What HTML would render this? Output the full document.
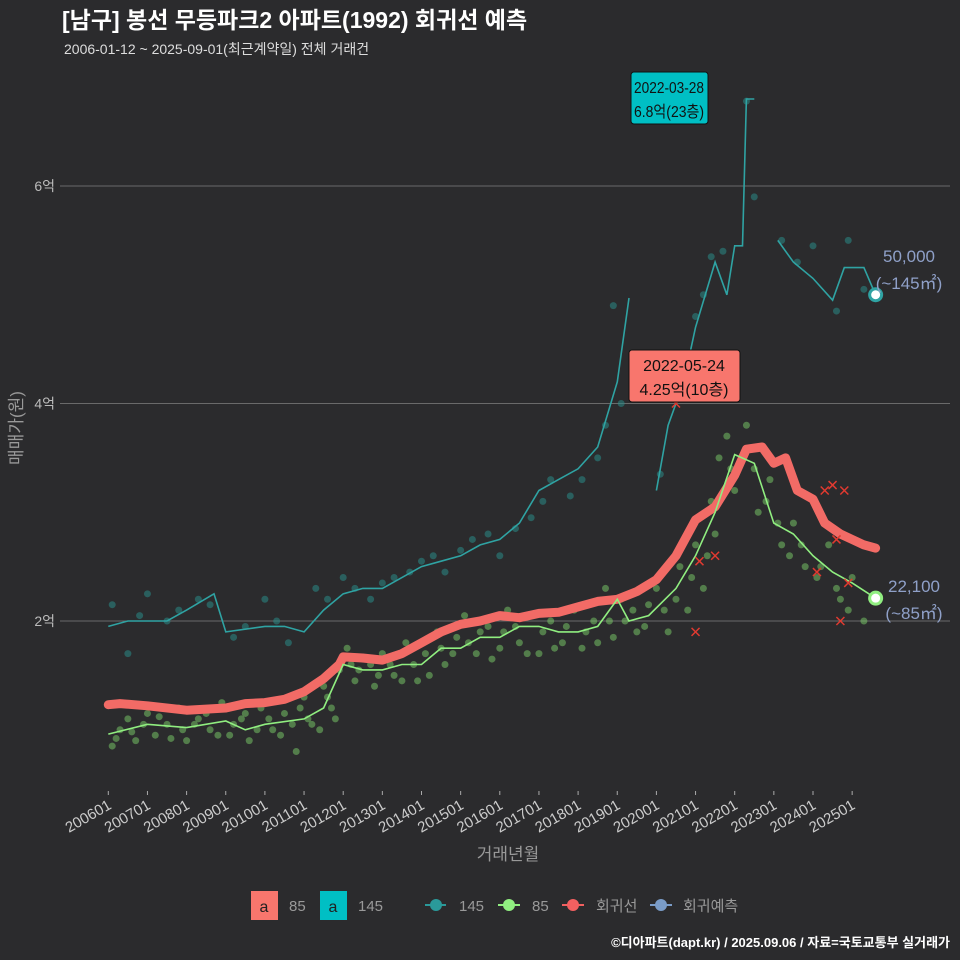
<!DOCTYPE html>
<html><head><meta charset="utf-8">
<style>
html,body{margin:0;padding:0;background:#2b2b2d;}
svg{display:block;font-family:"Liberation Sans","Noto Sans CJK KR",sans-serif;}
</style></head>
<body>
<svg id="chart" width="960" height="960" viewBox="0 0 960 960">
<rect x="0" y="0" width="960" height="960" fill="#2b2b2d"/>
<text x="62" y="28" fill="#ffffff" font-size="23" font-weight="bold">[남구] 봉선 무등파크2 아파트(1992) 회귀선 예측</text>
<text x="64" y="54" fill="#dddddd" font-size="14">2006-01-12 ~ 2025-09-01(최근계약일) 전체 거래건</text>
<g id="grid"></g>
<g id="marks"></g>
<g id="xaxis"></g>
<text x="508" y="860" fill="#999999" font-size="17" text-anchor="middle">거래년월</text>
<text transform="translate(22,428) rotate(-90)" fill="#999999" font-size="17" text-anchor="middle">매매가(원)</text>
<g>
<rect x="251" y="891" width="27" height="29" fill="#f8766d"/>
<text x="264" y="912" font-size="16" text-anchor="middle" fill="#222">a</text>
<text x="289" y="911" font-size="15" fill="#999">85</text>
<rect x="320" y="891" width="27" height="29" fill="#00bfc4"/>
<text x="333" y="912" font-size="16" text-anchor="middle" fill="#222">a</text>
<text x="358" y="911" font-size="15" fill="#999">145</text>
<line x1="425" y1="905" x2="446" y2="905" stroke="#2a9a9a" stroke-width="2"/><circle cx="436" cy="905" r="6" fill="#2a9a9a"/>
<text x="459" y="911" font-size="15" fill="#999">145</text>
<line x1="498" y1="905" x2="520" y2="905" stroke="#90ee80" stroke-width="2"/><circle cx="509" cy="905" r="6" fill="#90ee80"/>
<text x="532" y="911" font-size="15" fill="#999">85</text>
<line x1="562" y1="905" x2="584" y2="905" stroke="#f26060" stroke-width="2"/><circle cx="573" cy="905" r="6" fill="#f26060"/>
<text x="596" y="911" font-size="15" fill="#999">회귀선</text>
<line x1="650" y1="905" x2="672" y2="905" stroke="#7a9cc8" stroke-width="2"/><circle cx="661" cy="905" r="6" fill="#7a9cc8"/>
<text x="683" y="911" font-size="15" fill="#999">회귀예측</text>
</g>
<text x="950" y="947" fill="#ffffff" font-size="13" font-weight="bold" text-anchor="end">©디아파트(dapt.kr) / 2025.09.06 / 자료=국토교통부 실거래가</text>
</svg>
<script>
const yTicks=[2,4,6];
const yTickLabels=["2억","4억","6억"];
const xTickYears=[2006,2007,2008,2009,2010,2011,2012,2013,2014,2015,2016,2017,2018,2019,2020,2021,2022,2023,2024,2025];
const regT=[2006,2006.3,2007,2008,2009,2009.5,2010,2010.5,2011,2011.5,2011.9,2012,2012.5,2013,2013.5,2014,2014.5,2015,2015.5,2016,2016.5,2017,2017.5,2018,2018.5,2019,2019.5,2020,2020.5,2021,2021.5,2022,2022.3,2022.7,2023,2023.3,2023.6,2024,2024.3,2024.7,2025,2025.3,2025.6];
const regV=[1.23,1.24,1.22,1.18,1.2,1.24,1.25,1.28,1.35,1.47,1.6,1.67,1.66,1.64,1.7,1.8,1.9,1.97,2.0,2.05,2.03,2.07,2.08,2.13,2.18,2.2,2.27,2.38,2.6,2.93,3.05,3.34,3.58,3.6,3.45,3.5,3.2,3.12,2.9,2.8,2.75,2.7,2.67];
const s85T=[2006,2007,2008,2009,2009.5,2010,2011,2011.5,2012,2012.5,2013,2013.5,2014,2014.5,2015,2015.5,2016,2016.5,2017,2017.5,2018,2018.5,2019,2019.3,2019.8,2020.5,2021,2021.5,2022,2022.5,2023,2023.5,2024,2024.5,2025,2025.6];
const s85V=[0.96,1.05,1.02,1.08,1.0,1.05,1.1,1.2,1.6,1.55,1.55,1.6,1.6,1.75,1.75,1.85,1.85,1.95,1.95,1.9,1.9,1.95,2.2,2.0,2.05,2.3,2.6,3.0,3.53,3.45,2.9,2.8,2.6,2.45,2.35,2.21];
const s145T=[2006,2006.5,2007.5,2008,2008.7,2009,2010,2010.5,2011,2011.5,2012,2012.5,2013,2014,2014.5,2015,2015.5,2016,2016.5,2017,2017.5,2018,2018.5,2019,2019.3,2019.6,2020,2020.3,2020.7,2021,2021.5,2021.8,2022,2022.2,2022.3,2022.5,2022.8,2023.1,2023.5,2024,2024.5,2024.8,2025.3,2025.6];
const s145V=[1.95,2.0,2.0,2.1,2.25,1.9,1.95,1.95,1.9,2.1,2.25,2.3,2.3,2.5,2.55,2.6,2.7,2.75,2.9,3.2,3.3,3.4,3.6,4.2,4.97,null,3.2,3.8,4.2,4.7,5.3,5.0,5.45,5.45,6.8,6.8,null,5.5,5.3,5.15,4.95,5.25,5.25,5.0];
const pts85=[[2006.1,0.85],[2006.3,1.0],[2006.5,1.1],[2006.7,0.9],[2007,1.15],[2007.2,0.95],[2007.5,1.05],[2007.8,1.2],[2008,0.9],[2008.3,1.1],[2008.6,1.0],[2008.9,1.25],[2009.1,0.95],[2009.4,1.1],[2009.6,0.9],[2009.9,1.2],[2010.2,1.0],[2010.5,1.15],[2010.8,0.8],[2011,1.3],[2011.2,1.05],[2011.5,1.4],[2011.7,1.2],[2011.9,1.55],[2012.1,1.75],[2012.3,1.45],[2012.5,1.65],[2012.8,1.4],[2013,1.7],[2013.3,1.5],[2013.6,1.8],[2013.9,1.45],[2014.1,1.7],[2014.4,1.9],[2014.6,1.6],[2014.9,1.85],[2015.1,2.05],[2015.4,1.7],[2015.7,1.95],[2016,1.75],[2016.2,2.1],[2016.5,1.8],[2016.8,2.05],[2017,1.7],[2017.3,2.0],[2017.6,1.8],[2017.9,2.1],[2018.1,1.75],[2018.4,2.0],[2018.7,2.3],[2018.9,1.85],[2019.2,2.0],[2019.5,1.9],[2019.8,2.15],[2020,2.3],[2020.3,1.9],[2020.6,2.5],[2020.8,2.1],[2021,2.7],[2021.2,2.3],[2021.4,3.1],[2021.6,3.5],[2021.8,3.7],[2022,3.2],[2022.3,3.8],[2022.6,3.0],[2022.9,3.3],[2023.2,2.7],[2023.5,2.9],[2023.8,2.5],[2024.1,2.4],[2024.4,2.7],[2024.7,2.2],[2025,2.4],[2025.3,2.0],[2025.5,2.2],
[2006.2,0.92],[2006.6,0.98],[2006.9,1.05],[2007.3,1.12],[2007.6,0.92],[2007.9,1.0],[2008.2,1.05],[2008.5,1.15],[2008.8,0.95],[2009.2,1.05],[2009.5,1.15],[2009.8,1.0],[2010.1,1.1],[2010.4,0.95],[2010.7,1.05],[2010.9,1.2],[2011.1,1.1],[2011.4,1.0],[2011.6,1.3],[2011.8,1.1],[2012.2,1.6],[2012.4,1.55],[2012.7,1.6],[2012.9,1.5],[2013.2,1.6],[2013.5,1.45],[2013.8,1.6],[2014.2,1.5],[2014.5,1.75],[2014.8,1.7],[2015.2,1.8],[2015.5,1.9],[2015.8,1.65],[2016.1,1.9],[2016.4,1.95],[2016.7,1.7],[2017.1,1.9],[2017.4,1.75],[2017.7,1.95],[2018.2,1.9],[2018.5,1.8],[2018.8,2.0],[2019.1,2.2],[2019.4,2.1],[2019.7,1.95],[2020.2,2.1],[2020.5,2.2],[2020.9,2.4],[2021.3,2.6],[2021.5,2.8],[2021.9,3.4],[2022.2,3.5],[2022.5,3.4],[2022.8,3.1],[2023.1,2.9],[2023.4,2.6],[2023.7,2.7],[2024.2,2.5],[2024.6,2.3],[2024.9,2.1]];
const pts145=[[2006.1,2.15],[2006.5,1.7],[2007,2.25],[2007.5,2.0],[2008.3,2.2],[2009.2,1.85],[2010,2.2],[2010.6,1.8],[2011.3,2.3],[2012,2.4],[2012.7,2.2],[2013.3,2.4],[2014,2.55],[2014.6,2.45],[2015.3,2.75],[2016,2.6],[2016.8,2.95],[2017.3,3.3],[2017.8,3.15],[2018.5,3.5],[2018.9,4.9],[2019.1,4.0],[2020.1,3.35],[2020.5,4.1],[2021,4.8],[2021.4,5.35],[2021.7,5.4],[2022.5,5.9],[2022.3,6.78],[2023.2,5.5],[2023.6,5.3],[2024,5.45],[2024.6,4.85],[2025.3,5.05],[2024.9,5.5],
[2006.8,2.05],[2007.8,2.1],[2008.6,2.15],[2009.5,1.95],[2010.3,2.0],[2011.6,2.2],[2012.3,2.3],[2013,2.35],[2013.7,2.45],[2014.3,2.6],[2015,2.65],[2015.7,2.8],[2016.4,2.85],[2017.1,3.1],[2018.1,3.3],[2018.7,3.8],[2020.8,4.3],[2021.2,5.0]];
const regOut=[[2021.1,2.55],[2021.5,2.6],[2021.0,1.9],[2024.1,2.45],[2024.3,3.2],[2024.5,3.25],[2024.8,3.2],[2024.6,2.75],[2024.9,2.35],[2024.7,2.0],[2020.5,4.0]];

const X0=108.3,PXY=39.15,Y2=621,PXV=108.75;
function xs(t){return X0+(t-2006)*PXY;}
function ys(v){return Y2-(v-2)*PXV;}
const NS="http://www.w3.org/2000/svg";
function mk(tag,attrs,parent){const e=document.createElementNS(NS,tag);for(const k in attrs)e.setAttribute(k,attrs[k]);parent.appendChild(e);return e;}
const grid=document.getElementById('grid'),marks=document.getElementById('marks'),xa=document.getElementById('xaxis');
yTicks.forEach((v,i)=>{
  const l=mk('line',{x1:60,x2:950,y1:ys(v),y2:ys(v),stroke:'#6a6a6a','stroke-width':1},grid);
  
  
  const t=mk('text',{x:55,y:ys(v)+5,fill:'#bbbbbb','font-size':14,'text-anchor':'end'},grid);
  t.textContent=yTickLabels[i];
  
  
});
xTickYears.forEach(yr=>{
  const x=xs(yr);
  mk('line',{x1:x,x2:x,y1:791,y2:795,stroke:'#aaa'},xa);
  const t=mk('text',{transform:`translate(${x+4},808) rotate(-30)`,fill:'#cccccc','font-size':15,'text-anchor':'end'},xa);
  t.textContent=yr+'01';
  
  
});
function path(T,V){let d='',pen=false;for(let i=0;i<T.length;i++){if(V[i]==null){pen=false;continue;}d+=(pen?'L':'M')+xs(T[i]).toFixed(1)+','+ys(V[i]).toFixed(1);pen=true;}return d;}
pts145.forEach(p=>{const c=mk('circle',{cx:xs(p[0]),cy:ys(p[1]),r:3.5,fill:'#2a8a86','fill-opacity':0.55},marks);
  
  });
pts85.forEach(p=>{const c=mk('circle',{cx:xs(p[0]),cy:ys(p[1]),r:3.5,fill:'#7ccf6a','fill-opacity':0.5},marks);
  
  });
const l145=mk('path',{d:path(s145T,s145V),fill:'none',stroke:'#2fa3a3','stroke-width':1.6},marks);


const reg=mk('path',{d:path(regT,regV),fill:'none',stroke:'#f26b66','stroke-width':9,'stroke-linejoin':'round','stroke-linecap':'round'},marks);


const l85=mk('path',{d:path(s85T,s85V),fill:'none',stroke:'#90ee80','stroke-width':1.6},marks);


regOut.forEach(p=>{const x=xs(p[0]),y=ys(p[1]);const g=mk('path',{d:`M${x-4},${y-4}L${x+4},${y+4}M${x+4},${y-4}L${x-4},${y+4}`,stroke:'#e03a30','stroke-width':1.5},marks);
  
  });
const e1=mk('circle',{cx:xs(2025.6),cy:ys(5.0),r:6,fill:'#fff',stroke:'#2fa3a3','stroke-width':3},marks);


const e2=mk('circle',{cx:xs(2025.6),cy:ys(2.21),r:6,fill:'#fff',stroke:'#90ee80','stroke-width':3},marks);


function txt(x,y,s,attrs,name){const t=mk('text',Object.assign({x:x,y:y},attrs),marks);t.textContent=s;return t;}
const lab={fill:'#8fa0c8','font-size':17,'text-anchor':'middle'};
txt(909,262,'50,000',lab,'label-145-price');
txt(909,289,'(~145㎡)',lab,'label-145-area');
txt(914,592,'22,100',lab,'label-85-price');
txt(914,619,'(~85㎡)',lab,'label-85-area');
const b1=mk('rect',{x:631,y:72,width:77,height:52,rx:3,fill:'#00bfc4',stroke:'#111'},marks);


txt(669,93,'2022-03-28',{fill:'#111','font-size':16,'text-anchor':'middle',textLength:70,lengthAdjust:'spacingAndGlyphs'},'annotation-145-date');
txt(669,117,'6.8억(23층)',{fill:'#111','font-size':16,'text-anchor':'middle',textLength:70,lengthAdjust:'spacingAndGlyphs'},'annotation-145-value');
const b2=mk('rect',{x:629,y:350,width:111,height:52,rx:3,fill:'#f8766d',stroke:'#111'},marks);


txt(684,371,'2022-05-24',{fill:'#111','font-size':16,'text-anchor':'middle'},'annotation-85-date');
txt(684,395,'4.25억(10층)',{fill:'#111','font-size':16,'text-anchor':'middle'},'annotation-85-value');
</script>
</body></html>
